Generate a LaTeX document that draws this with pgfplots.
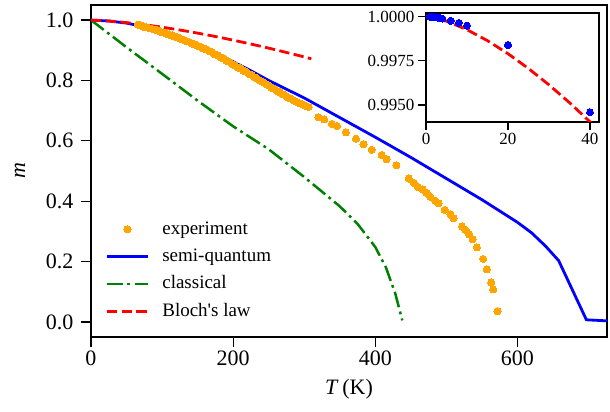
\documentclass[border=0pt]{standalone}
\usepackage{fontspec}
\setmainfont{Liberation Serif}
\usepackage{pgfplots}
\pgfplotsset{compat=1.18}

\definecolor{expor}{RGB}{255,165,0}
\definecolor{sqblue}{RGB}{0,0,255}
\definecolor{clgreen}{RGB}{0,128,0}
\definecolor{blred}{RGB}{255,0,0}

\newcommand{\bigfont}{\fontsize{22bp}{26bp}\selectfont}
\newcommand{\legfont}{\fontsize{19bp}{23bp}\selectfont}
\newcommand{\smallfont}{\fontsize{17bp}{20bp}\selectfont}

\pgfplotsset{
  lineleg/.style={legend image code/.code={\draw[##1] (0bp,0bp) -- (41bp,0bp);}},
  markleg/.style={legend image code/.code={\draw[mark repeat=2,mark phase=2,##1] plot coordinates {(0bp,0bp)(20.5bp,0bp)(41bp,0bp)};}},
}

\begin{document}
\begin{tikzpicture}
\useasboundingbox (-91bp,-75bp) rectangle (519bp,337bp);
\begin{axis}[
at={(0,0)}, anchor=south west,
scale only axis, width=516bp, height=332bp,
xmin=0, xmax=726, ymin=-0.05, ymax=1.05,
xtick={0,200,400,600},
ytick={0,0.2,0.4,0.6,0.8,1.0},
yticklabel style={/pgf/number format/fixed, /pgf/number format/fixed zerofill, /pgf/number format/precision=1, xshift=-4bp},
/pgf/number format/assume math mode=true,
tick label style={font=\bigfont},
xtick pos=bottom, ytick pos=left,
tick align=outside, major tick length=10bp,
tick style={black, line width=1.2bp},
axis line style={line width=1.5bp},
xlabel={\textit{T}\,(K)}, ylabel={\textit{m}},
label style={font=\bigfont},
xlabel style={at={(axis description cs:0.5,-0.157)}, anchor=center},
ylabel style={at={(axis description cs:-0.1376,0.5)}, anchor=center},
lineleg,
legend cell align=left,
legend style={draw=none, fill=none, font=\legfont,
  at={(axis description cs:0.022,0.038)}, anchor=south west,
  row sep=5.3bp, column sep=11bp,
  nodes={inner sep=2bp, text height=14bp, text depth=4bp}},
]
% experiment
\addplot[only marks, mark=*, mark size=3.6bp, mark options={fill=expor, draw=expor, line width=0pt}, markleg]
coordinates {
(66,0.985) (70,0.982) (74,0.978) (78,0.977) (82,0.973) (86,0.971) (90,0.968) (94,0.966)
(98,0.961) (102,0.959) (106,0.955) (110,0.952) (114,0.949) (118,0.945) (122,0.943) (126,0.938)
(130,0.935) (134,0.931) (138,0.928) (142,0.922) (146,0.920) (150,0.915) (154,0.912) (158,0.906)
(162,0.903) (166,0.897) (170,0.894) (174,0.887) (178,0.884) (182,0.877) (186,0.873) (190,0.866)
(194,0.862) (198,0.855) (202,0.851) (206,0.844) (210,0.840) (214,0.833) (218,0.829) (222,0.822)
(226,0.818) (230,0.811) (234,0.806) (238,0.799) (242,0.795) (246,0.788) (250,0.783) (254,0.776)
(258,0.772) (262,0.765) (266,0.760) (270,0.754) (274,0.749) (278,0.743) (282,0.739) (286,0.733)
(290,0.729) (294,0.724) (298,0.720) (302,0.716) (306,0.712)
(320,0.678) (328,0.671) (339,0.656) (346,0.649) (358.7,0.628) (372.8,0.607) (383.5,0.589)
(395,0.570) (409,0.553) (416,0.539) (429.6,0.519) (447,0.475) (454,0.461) (459.6,0.448)
(467,0.439) (472,0.428) (477.5,0.415) (484.5,0.401) (489,0.393) (497.6,0.371) (505.6,0.357)
(510,0.343) (522,0.316) (526.8,0.305) (532,0.290) (537,0.274) (543,0.247) (551.7,0.209)
(557,0.174) (563,0.131) (565.8,0.108) (572,0.036)
};
\addlegendentry{experiment}
% semi-quantum
\addplot[sqblue, line width=2.8bp] coordinates {
(0,1.0) (25,0.997) (50,0.99) (75,0.978) (100,0.962) (125,0.943) (150,0.92) (175,0.893)
(200,0.862) (225,0.832) (250,0.80) (275,0.771) (300,0.742) (350,0.677) (400,0.612)
(450,0.545) (500,0.475) (550,0.405) (600,0.33) (620,0.295) (640,0.25) (658,0.203)
(697,0.007) (730,0.003)
};
\addlegendentry{semi-quantum}
% classical
\addplot[clgreen, line width=2.5bp, dash pattern=on 16bp off 4.4bp on 2.8bp off 4.4bp] coordinates {
(0,1.0) (50,0.91) (100,0.822) (150,0.733) (200,0.648) (250,0.572) (300,0.48)
(350,0.383) (375,0.325) (400,0.248) (415,0.18) (428,0.095) (438,0.005)
};
\addlegendentry{classical}
% Bloch's law
\addplot[blred, line width=2.8bp, dash pattern=on 10.3bp off 4.4bp] coordinates {
(0,1.0) (20,0.9979) (40,0.99405) (60,0.98908) (80,0.98319) (100,0.9765) (120,0.96911)
(140,0.96107) (160,0.95244) (180,0.94325) (200,0.93353) (220,0.92332) (240,0.91263)
(260,0.90148) (280,0.8899) (300,0.87789) (310,0.87173)
};
\addlegendentry{Bloch\textquotesingle s law}
\end{axis}

\begin{axis}[
at={(335bp,215bp)}, anchor=south west,
scale only axis, width=173bp, height=109bp,
axis background/.style={fill=white},
xmin=0, xmax=42.2, ymin=0.99404, ymax=1.0002,
xtick={0,20,40}, ytick={0.995,0.9975,1.0},
scaled y ticks=false,
yticklabel style={/pgf/number format/fixed, /pgf/number format/fixed zerofill, /pgf/number format/precision=4},
/pgf/number format/assume math mode=true,
tick label style={font=\smallfont},
xtick pos=bottom, ytick pos=left,
tick align=outside, major tick length=8bp,
tick style={black, line width=1.2bp},
axis line style={line width=1.5bp},
]
\addplot[blred, line width=2.8bp, dash pattern=on 10.3bp off 4.4bp] coordinates {
(0,1.0) (5,0.999737) (10,0.999257) (15,0.998635) (20,0.9979) (25,0.997062)
(30,0.996139) (35,0.995134) (40,0.99405) (42,0.993604)
};
\addplot[only marks, mark=*, mark size=3.5bp, mark options={fill=sqblue, draw=sqblue, line width=0pt}] coordinates {
(1,0.99999) (1.5,0.99998) (2,0.99997) (2.5,0.99995) (3,0.99993) (3.5,0.99991) (4,0.99988)
(6,0.99976) (8,0.99964) (10,0.99949) (20,0.99839) (40,0.99459)
};
\end{axis}
\end{tikzpicture}
\end{document}
